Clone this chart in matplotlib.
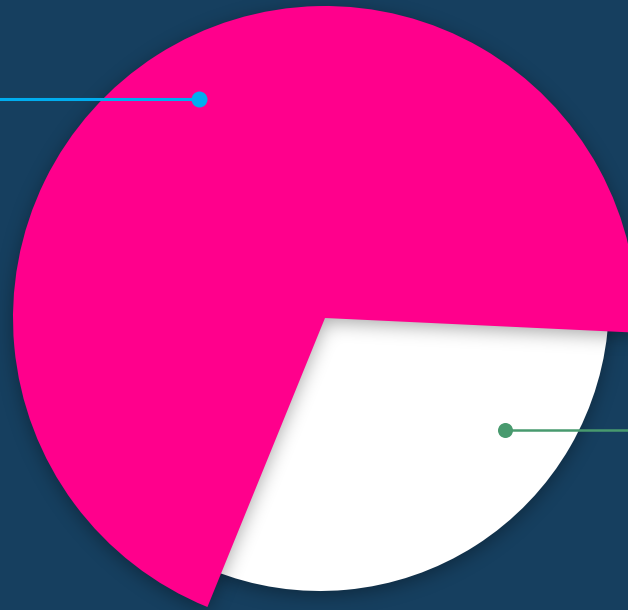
import matplotlib
matplotlib.use("Agg")
import matplotlib.pyplot as plt
import numpy as np

# slice data
labels = ["Series A", "Series B"]
values = [69.6, 30.4]
colors = ["#FF008C", "#FFFFFF"]
line_colors = ["#00ADEF", "#489A6E"]

BG = "#163F5F"

# layout (pixel units, y up)
W, H = 628, 610
PINK_CENTER = (325, 292)
PINK_R = 312
WHITE_CENTER = (320, 308)
WHITE_R = 289
label_dots = [(199, 511), (505, 180)]
label_ends = [-20, 660]

fig = plt.figure(figsize=(W / 100, H / 100), dpi=100, facecolor=BG)
ax = fig.add_axes([0, 0, 1, 1])
ax.set_facecolor(BG)

wedges, _ = ax.pie(values, colors=colors, startangle=-2.7, radius=PINK_R,
                   center=PINK_CENTER, frame=True)
pink, white = wedges
pink.set_zorder(4)
white.set_zorder(2)
white.set_center(WHITE_CENTER)
white.set_radius(WHITE_R)

PAD = 60
ys, xs = np.mgrid[-PAD:H + PAD, -PAD:W + PAD] + 0.5


def blur(img, sigma):
    k = np.arange(-int(3 * sigma), int(3 * sigma) + 1)
    g = np.exp(-k ** 2 / (2 * sigma ** 2))
    g /= g.sum()
    img = np.apply_along_axis(lambda m: np.convolve(m, g, mode="same"), 0, img)
    img = np.apply_along_axis(lambda m: np.convolve(m, g, mode="same"), 1, img)
    return img


def add_shadow(w, z, strength=0.34, offset=(0, -4), sigma=9):
    # soft drop shadow: blurred mask of the wedge shape
    cx, cy = w.center
    dx = xs - cx - offset[0]
    dy = ys - cy - offset[1]
    ang = (np.degrees(np.arctan2(dy, dx)) - w.theta1) % 360
    mask = ((dx ** 2 + dy ** 2 <= w.r ** 2) &
            (ang <= (w.theta2 - w.theta1))).astype(float)
    a = blur(mask, sigma) * strength
    rgba = np.zeros(mask.shape + (4,))
    rgba[..., 3] = a
    ax.imshow(rgba, extent=(-PAD, W + PAD, -PAD, H + PAD), origin="lower",
              interpolation="nearest", zorder=z)


add_shadow(white, 1)
add_shadow(pink, 3)

# leader lines (labels sit outside the visible area)
for (dx, dy), xe, c, ms, lw in zip(label_dots, label_ends, line_colors,
                                   [11.5, 10.8], [2.2, 1.8]):
    ax.plot([dx, xe], [dy, dy], color=c, lw=lw, zorder=5, solid_capstyle="butt")
    ax.plot([dx], [dy], "o", color=c, ms=ms, zorder=6, mec="none")

ax.set_xlim(0, W)
ax.set_ylim(0, H)
ax.set_aspect("equal")
ax.axis("off")

fig.savefig("out.png", dpi=100, facecolor=BG)
